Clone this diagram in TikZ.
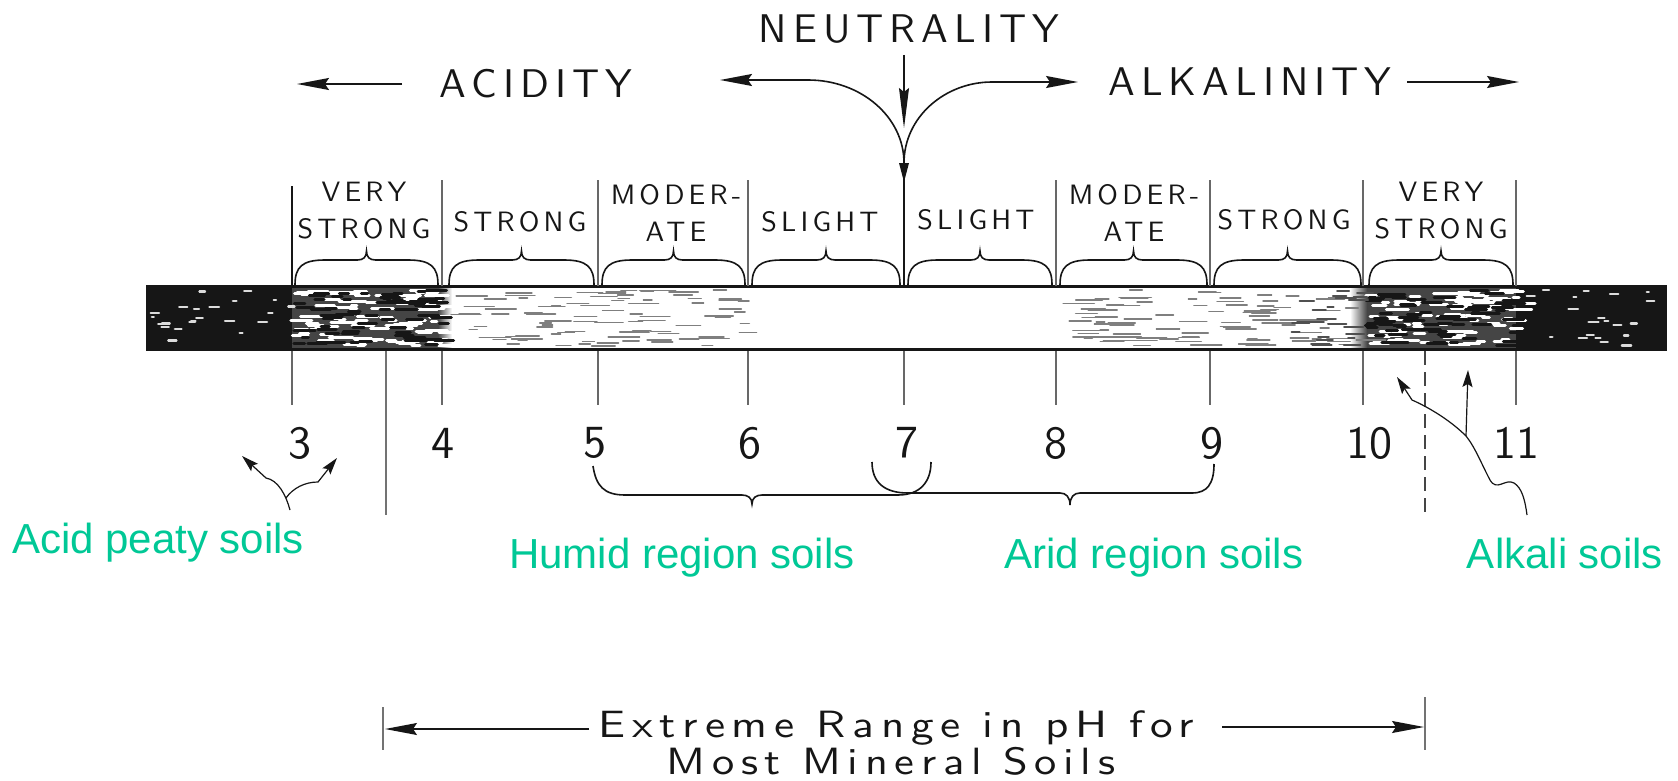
\documentclass[tikz,border=0pt]{standalone}
\usepackage{fontspec}
\usepackage{graphicx}
\setmainfont{Liberation Sans}
\newfontfamily\handfont{lmsans10-regular.otf}[LetterSpace=15]
\newfontfamily\numfont{lmsans10-regular.otf}
\usetikzlibrary{arrows.meta}
\definecolor{soilgreen}{RGB}{0,200,150}
\definecolor{ink}{RGB}{22,22,22}

\tikzset{
  inkline/.style={draw=ink, line width=1.6pt},
  thinline/.style={draw=ink, line width=1.2pt},
  tickline/.style={draw=ink!65, line width=1.1pt},
  brc/.style={draw=ink, line width=1.6pt},
  bigarrow/.style={-{Stealth[length=32pt,width=12pt,inset=4pt]}},
  smallarrow/.style={-{Stealth[length=17pt,width=10pt,inset=3pt]}},
  hand/.style={font=\handfont\fontsize{40}{40}\selectfont, text=ink, inner sep=0pt},
  seg/.style={font=\handfont\fontsize{28}{37}\selectfont, text=ink, align=center, inner sep=0pt},
  num/.style={font=\numfont\fontsize{46}{46}\selectfont, text=ink, inner sep=0pt},
  lower/.style={font=\handfont\fontsize{38}{38}\selectfont, text=ink, inner sep=0pt, anchor=base},
  soil/.style={font=\fontsize{42}{42}\selectfont, text=soilgreen, inner sep=0pt, anchor=base},
}

% random horizontal streaks inside the bar: count, x0, width, colour, line width, min length, extra length
\newcommand\streaks[7]{%
  \foreach \k in {1,...,#1}{%
    \pgfmathsetmacro\sx{#2+#3*rnd}%
    \pgfmathsetmacro\sy{290+56*rnd}%
    \pgfmathsetmacro\sl{#6+#7*rnd}%
    \draw[#4, line width=#5, line cap=round] (\sx,\sy) -- ++(\sl,0);}}

% curly brace over one band of the bar
\newcommand\topbrace[2]{%
  \draw[brc] (#1,285) .. controls (#1,267) and (#1+7,260) .. (#1+30,260)
    -- ({(#1+#2)/2-9},260) .. controls ({(#1+#2)/2-3},260) and ({(#1+#2)/2},257) .. ({(#1+#2)/2},251)
    .. controls ({(#1+#2)/2},257) and ({(#1+#2)/2+3},260) .. ({(#1+#2)/2+9},260)
    -- (#2-30,260) .. controls (#2-7,260) and (#2,267) .. (#2,285);}

\begin{document}
\begin{tikzpicture}[x=1pt,y=-1pt]
\useasboundingbox (0,0) rectangle (1678,781);
\fill[white] (0,0) rectangle (1678,781);
\pgfmathsetseed{4242}

% ---------- the pH bar ----------
\begin{scope}
  \clip (146,286) rectangle (1667,349);
  \fill[ink] (146,286) rectangle (292,349);
  \fill[ink!80] (292,286) rectangle (438,349);
  \shade[left color=ink!80, right color=white] (438,286) rectangle (452,349);
  \shade[left color=white, right color=ink!80] (1350,286) rectangle (1367,349);
  \fill[ink!80] (1367,286) rectangle (1516,349);
  \fill[ink] (1516,286) rectangle (1667,349);
  \streaks{22}{150}{140}{white!85!ink}{2.2pt}{2}{8}
  \streaks{22}{1520}{140}{white!85!ink}{2.2pt}{2}{8}
  \streaks{100}{290}{150}{white}{3pt}{5}{18}
  \streaks{70}{290}{150}{ink}{3pt}{6}{16}
  \streaks{100}{1365}{150}{white}{3pt}{5}{18}
  \streaks{70}{1365}{150}{ink}{3pt}{6}{16}
  \streaks{90}{450}{295}{ink!55}{1.5pt}{8}{24}
  \streaks{90}{1058}{300}{ink!55}{1.5pt}{8}{24}
  \streaks{25}{1290}{70}{ink!75}{2pt}{6}{16}
\end{scope}
\draw[ink, line width=3pt] (146,286) -- (1667,286);
\draw[ink, line width=3pt] (146,349) -- (1667,349);

% ---------- dividers at each pH value ----------
\draw[thinline] (292,186) -- (292,286);
\foreach \t in {442,598,748,1056,1210,1363,1516}{
  \draw[tickline] (\t,180) -- (\t,286);}
\foreach \t in {292,442,598,748,904,1056,1210,1363,1516}{
  \draw[tickline] (\t,351) -- (\t,405);}

% ---------- braces over the bands ----------
\topbrace{295}{438}
\topbrace{449}{594}
\topbrace{602}{745}
\topbrace{752}{900}
\topbrace{908}{1052}
\topbrace{1060}{1207}
\topbrace{1214}{1361}
\topbrace{1369}{1513}

% ---------- band names ----------
\node[seg] (vsA) at (364,211) {VERY\\STRONG};
\node[seg] (stA) at (520,222) {STRONG};
\node[seg] (moA) at (676,213) {MODER-\\ATE};
\node[seg] (slA) at (820,222) {SLIGHT};
\node[seg] (slB) at (976,220) {SLIGHT};
\node[seg] (moB) at (1134,213) {MODER-\\ATE};
\node[seg] (stB) at (1284,220) {STRONG};
\node[seg] (vsB) at (1441,211) {VERY\\STRONG};

% ---------- headings and their arrows ----------
\node[hand] (neut) at (909,29) {NEUTRALITY};
\node[hand] (acid) at (536,84) {ACIDITY};
\node[hand] (alk) at (1250,82) {ALKALINITY};

\coordinate (acidTail) at (402,84);
\coordinate (acidTip) at (297,84);
\draw[inkline, bigarrow] (acidTail) -- (acidTip);
\coordinate (alkTail) at (1407,82);
\coordinate (alkTip) at (1519,82);
\draw[inkline, bigarrow] (alkTail) -- (alkTip);

\coordinate (cusp) at (904,163);
\coordinate (neutTop) at (904,55);
\coordinate (neutTip) at (904,128);
\coordinate (leftTip) at (720,80);
\coordinate (rightTip) at (1078,82);
\coordinate (barTop7) at (904,286);
\draw[thinline, -{Stealth[length=40pt,width=10pt,inset=4pt]}] (neutTop) -- (neutTip);
\draw[inkline, bigarrow] (cusp) .. controls (904,117) and (861,80) .. (808,80) -- (leftTip);
\draw[inkline, bigarrow] (cusp) .. controls (904,117) and (945,82) .. (992,82) -- (rightTip);
\fill[ink] (899,163) -- (909,163) -- (904,182) -- cycle;
\draw[thinline] (cusp) -- (barTop7);

% ---------- pH numbers ----------
\node[num] (n3) at (300,443) {3};
\node[num] (n4) at (443,443) {4};
\node[num] (n5) at (595,443) {5};
\node[num] (n6) at (750,443) {6};
\node[num] (n7) at (907,443) {7};
\node[num] (n8) at (1056,443) {8};
\node[num] (n9) at (1212,443) {9};
\node[num] (n10) at (1369,443) {10};
\node[num] (n11) at (1516,443) {11};

% ---------- range of most mineral soils ----------
\draw[draw=ink!60, line width=1.1pt] (386,351) -- (386,515);
\draw[draw=ink!80, line width=1.3pt, dash pattern=on 14pt off 7pt] (1425,351) -- (1425,517);

% ---------- humid and arid region braces ----------
\draw[brc] (593,466) .. controls (596,486) and (604,495) .. (625,495)
  -- (742,495) .. controls (748,495) and (752,498) .. (752,504)
  .. controls (752,498) and (756,495) .. (762,495)
  -- (898,495) .. controls (920,495) and (931,482) .. (931,462);
\draw[brc] (872,462) .. controls (872,482) and (884,493) .. (908,493)
  -- (1060,493) .. controls (1066,493) and (1070,497) .. (1070,505)
  .. controls (1070,497) and (1074,493) .. (1080,493)
  -- (1192,493) .. controls (1207,493) and (1214,484) .. (1214,464);

% ---------- pointers to acid peaty and alkali soils ----------
\coordinate (peatRoot) at (290,510);
\coordinate (peatFork) at (286,498);
\coordinate (peatTipL) at (242,456);
\coordinate (peatTipR) at (337,458);
\draw[thinline, smallarrow] (peatRoot) .. controls (286,495) and (278,480) .. (266,478) -- (peatTipL);
\draw[thinline, smallarrow] (peatFork) .. controls (293,488) and (305,482) .. (318,482) -- (peatTipR);

\coordinate (alkaRoot) at (1527,515);
\coordinate (alkaFork) at (1466,436);
\coordinate (alkaTipL) at (1397,377);
\coordinate (alkaTipR) at (1468,370);
\draw[thinline, smallarrow] (alkaRoot) .. controls (1525,500) and (1522,488) .. (1514,483)
  .. controls (1505,478) and (1497,492) .. (1490,480)
  .. controls (1482,465) and (1475,447) .. (alkaFork)
  .. controls (1450,420) and (1428,407) .. (1412,400) -- (alkaTipL);
\draw[thinline, smallarrow] (alkaFork) -- (alkaTipR);

% ---------- soil group labels ----------
\node[soil] (peaty) at (158,553) {Acid peaty soils};
\node[soil] (humid) at (682,568) {Humid region soils};
\node[soil] (arid) at (1154,568) {Arid region soils};
\node[soil] (alkali) at (1565,568) {Alkali soils};

% ---------- extreme range caption ----------
\node[lower] (ext1) at (896,737) {\scalebox{1.19}[1]{Extreme Range in pH for}};
\node[lower] (ext2) at (891,774) {\scalebox{1.17}[1]{Most Mineral Soils}};
\coordinate (extLtail) at (589,729);
\coordinate (extLtip) at (385,729);
\coordinate (extRtail) at (1222,727);
\coordinate (extRtip) at (1424,727);
\draw[thinline, bigarrow] (extLtail) -- (extLtip);
\draw[thinline, bigarrow] (extRtail) -- (extRtip);
\draw[draw=ink!60, line width=1.1pt] (383,707) -- (383,750);
\draw[draw=ink!60, line width=1.1pt] (1425,697) -- (1425,750);
\end{tikzpicture}
\end{document}
